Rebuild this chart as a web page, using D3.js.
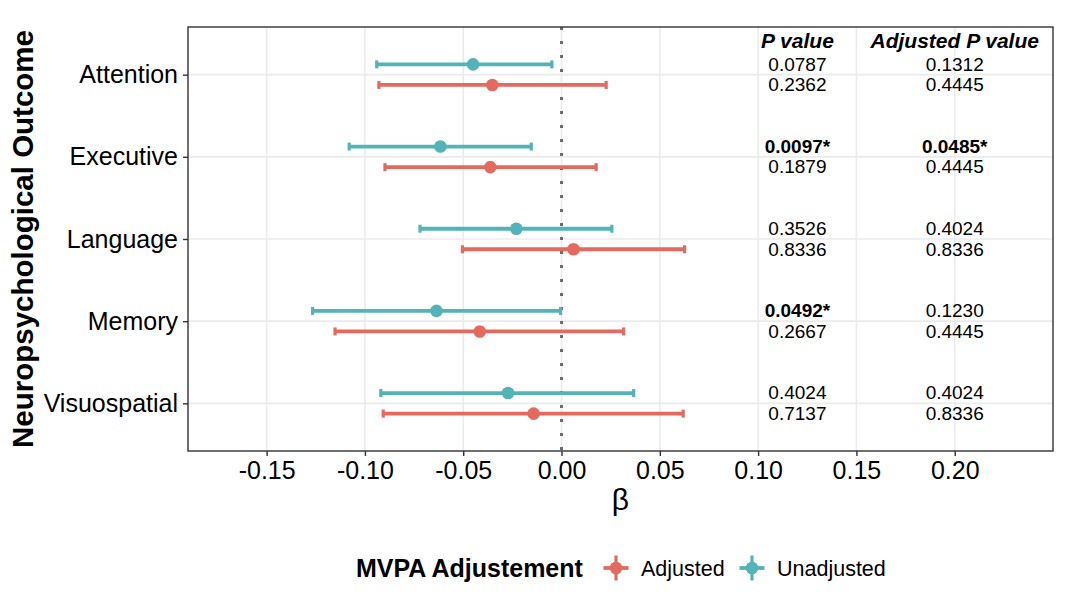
<!DOCTYPE html>
<html>
<head>
<meta charset="utf-8">
<script src="https://cdn.jsdelivr.net/npm/d3@7"></script>
<style>
  body { margin: 0; background: #fff; }
  text { font-family: "Liberation Sans", Arial, Helvetica, sans-serif; }
</style>
</head>
<body>
<div id="chart"></div>
<script>
// values
let outcomes = ["Attention", "Executive", "Language", "Memory", "Visuospatial"];

let unadjEst = [-0.0450, -0.0616, -0.0230, -0.0636, -0.0272];
let unadjLo  = [-0.0940, -0.1080, -0.0720, -0.1266, -0.0919];
let unadjHi  = [-0.0049, -0.0154,  0.0256, -0.0005,  0.0367];

let adjEst = [-0.0352, -0.0362,  0.0061, -0.0416, -0.0142];
let adjLo  = [-0.0929, -0.0898, -0.0504, -0.1152, -0.0907];
let adjHi  = [ 0.0227,  0.0176,  0.0626,  0.0316,  0.0619];

// p value table (first line = unadjusted model, second = adjusted model)
let unadjP    = ["0.0787", "0.0097*", "0.3526", "0.0492*", "0.4024"];
let unadjPAdj = ["0.1312", "0.0485*", "0.4024", "0.1230", "0.4024"];
let adjP      = ["0.2362", "0.1879", "0.8336", "0.2667", "0.7137"];
let adjPAdj   = ["0.4445", "0.4445", "0.8336", "0.4445", "0.8336"];

let xTicks = [-0.15, -0.10, -0.05, 0.00, 0.05, 0.10, 0.15, 0.20];
let xTickLabels = ["-0.15", "-0.10", "-0.05", "0.00", "0.05", "0.10", "0.15", "0.20"];
let xDomain = [-0.19, 0.25];

let seriesNames = ["Adjusted", "Unadjusted"];
let colors = { Adjusted: "#E4695F", Unadjusted: "#52B3B8" };

/** CONSTANTS */
let width = 1070,
  height = 604,
  margin = { top: 27, bottom: 153, left: 188, right: 17 },
  dodge = 0.125,
  pColX = 0.12,
  pAdjColX = 0.20;

let series = [
  { name: "Unadjusted", side: -1, est: unadjEst, lo: unadjLo, hi: unadjHi, p: unadjP, pa: unadjPAdj },
  { name: "Adjusted", side: 1, est: adjEst, lo: adjLo, hi: adjHi, p: adjP, pa: adjPAdj }
];
let rows = [];
series.forEach(s => outcomes.forEach((o, i) => rows.push({
  outcome: o, name: s.name, side: s.side,
  est: s.est[i], lo: s.lo[i], hi: s.hi[i], p: s.p[i], pa: s.pa[i]
})));

/** SCALES */
let xScale = d3.scaleLinear()
  .domain(xDomain)
  .range([margin.left, width - margin.right]);

let yScale = d3.scalePoint()
  .domain(outcomes)
  .range([margin.top, height - margin.bottom])
  .padding(0.58);

let step = yScale.step();
let yPos = d => yScale(d.outcome) + d.side * dodge * step;

/** MAIN CODE */
let svg = d3.select("#chart")
  .append("svg")
  .attr("width", width)
  .attr("height", height);

svg.append("rect").attr("width", width).attr("height", height).attr("fill", "#fff");

let panelBottom = height - margin.bottom;

// grid
svg.append("g")
  .selectAll("line")
  .data(xTicks)
  .join("line")
  .attr("x1", d => xScale(d)).attr("x2", d => xScale(d))
  .attr("y1", margin.top).attr("y2", panelBottom)
  .attr("stroke", "#EBEBEB").attr("stroke-width", 1.6);

svg.append("g")
  .selectAll("line")
  .data(outcomes)
  .join("line")
  .attr("x1", margin.left).attr("x2", width - margin.right)
  .attr("y1", d => yScale(d)).attr("y2", d => yScale(d))
  .attr("stroke", "#EBEBEB").attr("stroke-width", 1.6);

// zero line
svg.append("line")
  .attr("x1", xScale(0)).attr("x2", xScale(0))
  .attr("y1", margin.top).attr("y2", panelBottom)
  .attr("stroke", "#6b6b6b")
  .attr("stroke-width", 3)
  .attr("stroke-dasharray", "3,11");

// error bars
let bars = svg.append("g")
  .selectAll("g")
  .data(rows)
  .join("g")
  .attr("stroke", d => colors[d.name])
  .attr("stroke-width", 3.8);

bars.append("line")
  .attr("x1", d => xScale(d.lo)).attr("x2", d => xScale(d.hi))
  .attr("y1", yPos).attr("y2", yPos);

bars.append("line")
  .attr("x1", d => xScale(d.lo)).attr("x2", d => xScale(d.lo))
  .attr("y1", d => yPos(d) - 4).attr("y2", d => yPos(d) + 4)
  .attr("stroke-width", 3.2);

bars.append("line")
  .attr("x1", d => xScale(d.hi)).attr("x2", d => xScale(d.hi))
  .attr("y1", d => yPos(d) - 4).attr("y2", d => yPos(d) + 4)
  .attr("stroke-width", 3.2);

// points
svg.append("g")
  .selectAll("circle")
  .data(rows)
  .join("circle")
  .attr("cx", d => xScale(d.est))
  .attr("cy", yPos)
  .attr("r", 6.3)
  .attr("fill", d => colors[d.name]);

// p value text
let pText = svg.append("g").attr("font-size", 19).attr("fill", "#000");
[["p", pColX], ["pa", pAdjColX]].forEach(([key, col]) => {
  pText.append("g")
    .selectAll("text")
    .data(rows)
    .join("text")
    .attr("x", xScale(col))
    .attr("y", yPos)
    .attr("dy", "0.33em")
    .attr("text-anchor", "middle")
    .attr("font-weight", d => d[key].includes("*") ? "bold" : "normal")
    .text(d => d[key]);
});

// table header
svg.append("g")
  .selectAll("text")
  .data([["P value", pColX], ["Adjusted P value", pAdjColX]])
  .join("text")
  .attr("x", d => xScale(d[1]))
  .attr("y", yScale(outcomes[0]) - 0.42 * step)
  .attr("dy", "0.36em")
  .attr("text-anchor", "middle")
  .attr("font-size", 21)
  .attr("font-weight", "bold")
  .attr("font-style", "italic")
  .text(d => d[0]);

// panel border
svg.append("rect")
  .attr("x", margin.left).attr("y", margin.top)
  .attr("width", width - margin.left - margin.right)
  .attr("height", panelBottom - margin.top)
  .attr("fill", "none")
  .attr("stroke", "#333")
  .attr("stroke-width", 1.4);

// axes
let xAxis = d3.axisBottom(xScale)
  .tickValues(xTicks)
  .tickFormat((d, i) => xTickLabels[i])
  .tickSize(5)
  .tickPadding(5);

let gx = svg.append("g")
  .attr("transform", `translate(0, ${panelBottom})`)
  .call(xAxis);

let yAxis = d3.axisLeft(yScale).tickSize(5).tickPadding(5);

let gy = svg.append("g")
  .attr("transform", `translate(${margin.left}, 0)`)
  .call(yAxis);

[gx, gy].forEach(g => {
  g.select(".domain").remove();
  g.selectAll(".tick line").attr("stroke", "#333").attr("stroke-width", 1.4);
  g.selectAll(".tick text")
    .attr("fill", "#000")
    .attr("font-size", 25)
    .attr("font-family", "'Liberation Sans', Arial, Helvetica, sans-serif");
});

// axis titles
svg.append("text")
  .attr("x", (margin.left + width - margin.right) / 2)
  .attr("y", 510)
  .attr("text-anchor", "middle")
  .attr("font-family", "'Liberation Serif', 'Times New Roman', serif")
  .attr("font-size", 30)
  .text("β");

svg.append("text")
  .attr("transform", `translate(22, ${(margin.top + panelBottom) / 2}) rotate(-90)`)
  .attr("text-anchor", "middle")
  .attr("dy", "0.36em")
  .attr("font-size", 29.5)
  .attr("font-weight", "bold")
  .text("Neuropsychological Outcome");

// legend
let legend = svg.append("g").attr("transform", "translate(0, 568)");

legend.append("text")
  .attr("x", 356)
  .attr("dy", "0.36em")
  .attr("font-size", 25)
  .attr("font-weight", "bold")
  .text("MVPA Adjustement");

let legendX = { Adjusted: 616, Unadjusted: 752 };

let keys = legend.selectAll("g.key")
  .data(seriesNames)
  .join("g")
  .attr("class", "key")
  .attr("transform", d => `translate(${legendX[d]}, 0)`);

keys.append("line")
  .attr("x1", -12.5).attr("x2", 12.5)
  .attr("stroke", d => colors[d]).attr("stroke-width", 3.8);
keys.append("line")
  .attr("y1", -12.5).attr("y2", 12.5)
  .attr("stroke", d => colors[d]).attr("stroke-width", 3.2);
keys.append("circle")
  .attr("r", 6.3)
  .attr("fill", d => colors[d]);
keys.append("text")
  .attr("x", 25)
  .attr("dy", "0.36em")
  .attr("font-size", 21.5)
  .text(d => d);
</script>
</body>
</html>
